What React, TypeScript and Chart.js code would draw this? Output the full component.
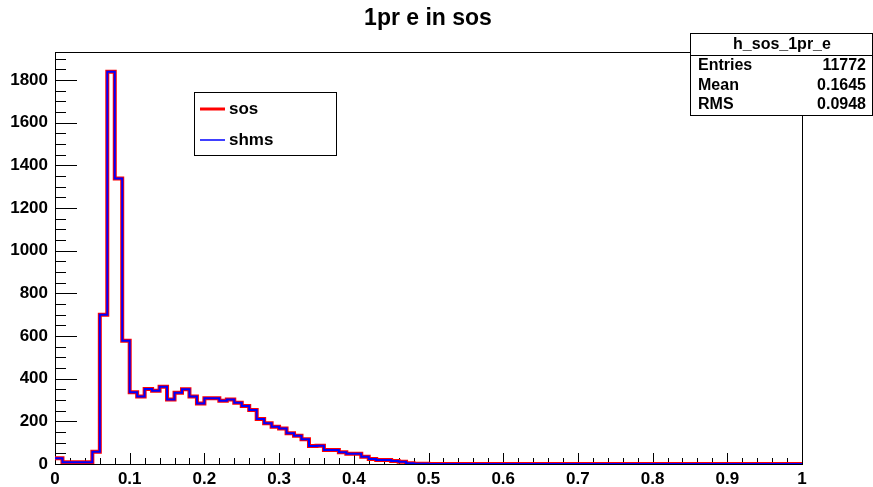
import React, { useEffect, useRef } from "react";
import { Chart, registerables } from "chart.js";

Chart.register(...registerables);

// Histogram h_sos_1pr_e: 100 bins of width 0.01 on [0, 1]
const BIN_WIDTH = 0.01;
const X_MIN = 0;
const X_MAX = 1;
const Y_MAX = 1932;

const sosCounts = [
  27, 8, 8, 8, 8, 58, 700, 1839, 1339, 578,
  336, 316, 352, 344, 362, 303, 334, 350, 316, 284,
  308, 308, 297, 303, 287, 272, 253, 211, 191, 175,
  167, 144, 133, 116, 84, 86, 66, 66, 55, 48,
  48, 34, 23, 19, 19, 14, 11, 3, 1, 1,
  0, 0, 0, 0, 0, 0, 0, 0, 0, 0,
  0, 0, 0, 0, 0, 0, 0, 0, 0, 0,
  0, 0, 0, 0, 0, 0, 0, 0, 0, 0,
  0, 0, 0, 0, 0, 0, 0, 0, 0, 0,
  0, 0, 0, 0, 0, 0, 0, 0, 0, 0,
];

const shmsCounts = [
  27, 8, 8, 8, 8, 58, 700, 1839, 1339, 578,
  336, 316, 352, 344, 362, 303, 334, 350, 316, 284,
  308, 308, 297, 303, 287, 272, 253, 211, 191, 175,
  167, 144, 133, 116, 84, 86, 66, 66, 55, 48,
  48, 34, 23, 19, 19, 14, 11, 3, 1, 1,
  0, 0, 0, 0, 0, 0, 0, 0, 0, 0,
  0, 0, 0, 0, 0, 0, 0, 0, 0, 0,
  0, 0, 0, 0, 0, 0, 0, 0, 0, 0,
  0, 0, 0, 0, 0, 0, 0, 0, 0, 0,
  0, 0, 0, 0, 0, 0, 0, 0, 0, 0,
];

const xTickLabels = ["0", "0.1", "0.2", "0.3", "0.4", "0.5", "0.6", "0.7", "0.8", "0.9", "1"];
const yTickLabels = ["0", "200", "400", "600", "800", "1000", "1200", "1400", "1600", "1800"];

const titleText = "1pr e in sos";
const statsTitle = "h_sos_1pr_e";
const statsLabels = ["Entries", "Mean", "RMS"];
const statsValues = ["11772", "0.1645", "0.0948"];

const FONT = '"Liberation Sans", Arial, Helvetica, sans-serif';

// Step outline: one point per bin low edge, plus the closing upper edge
function toSteps(counts: number[]) {
  const pts = counts.map((c, i) => ({ x: X_MIN + i * BIN_WIDTH, y: c }));
  pts.push({ x: X_MAX, y: counts[counts.length - 1] });
  return pts;
}

const px = (v: number) => Math.round(v) + 0.5;

const framePlugin = {
  id: "rootFrame",
  beforeDatasetsDraw(chart: any) {
    const { ctx, chartArea } = chart;
    const xs = chart.scales.x;
    const ys = chart.scales.y;
    ctx.save();
    ctx.strokeStyle = "#000";
    ctx.lineWidth = 1;
    // frame
    ctx.strokeRect(px(chartArea.left), px(chartArea.top),
      Math.round(chartArea.right) - Math.round(chartArea.left),
      Math.round(chartArea.bottom) - Math.round(chartArea.top));
    // y ticks (inside, major every 200, minor every 50)
    ctx.beginPath();
    for (let v = 0; v <= Y_MAX; v += 50) {
      const y = px(ys.getPixelForValue(v));
      const len = v % 200 === 0 ? 22 : 11;
      ctx.moveTo(chartArea.left, y);
      ctx.lineTo(chartArea.left + len, y);
    }
    // x ticks (inside, major every 0.1, minor every 0.02)
    for (let i = 0; i <= 50; i++) {
      const x = px(xs.getPixelForValue(i * 0.02));
      const len = i % 5 === 0 ? 11 : 6;
      ctx.moveTo(x, chartArea.bottom);
      ctx.lineTo(x, chartArea.bottom - len);
    }
    ctx.stroke();
    ctx.restore();
  },
  afterDraw(chart: any) {
    const { ctx } = chart;
    ctx.save();
    // title
    ctx.fillStyle = "#000";
    ctx.font = `bold 23px ${FONT}`;
    ctx.textAlign = "center";
    ctx.textBaseline = "middle";
    ctx.fillText(titleText, 428, 19);

    // legend
    ctx.fillStyle = "#fff";
    ctx.fillRect(194, 92, 142, 63);
    ctx.strokeStyle = "#000";
    ctx.lineWidth = 1;
    ctx.strokeRect(194.5, 92.5, 142, 63);
    const ds = chart.data.datasets;
    ds.forEach((d: any, row: number) => {
      const y = 109 + row * 31;
      ctx.strokeStyle = d.borderColor;
      ctx.lineWidth = d.borderWidth >= 4 ? 3 : 1.5;
      ctx.beginPath();
      ctx.moveTo(200, y);
      ctx.lineTo(225, y);
      ctx.stroke();
      ctx.fillStyle = "#000";
      ctx.font = `bold 17px ${FONT}`;
      ctx.textAlign = "left";
      ctx.textBaseline = "middle";
      ctx.fillText(d.label, 229, y);
    });

    // statistics box
    ctx.fillStyle = "#fff";
    ctx.fillRect(690, 33, 182, 82);
    ctx.strokeStyle = "#000";
    ctx.lineWidth = 1;
    ctx.strokeRect(690.5, 33.5, 182, 82);
    ctx.beginPath();
    ctx.moveTo(690, 55.5);
    ctx.lineTo(872, 55.5);
    ctx.stroke();
    ctx.fillStyle = "#000";
    ctx.font = `bold 16px ${FONT}`;
    ctx.textBaseline = "middle";
    ctx.textAlign = "center";
    ctx.fillText(statsTitle, 782, 45);
    statsLabels.forEach((lab, i) => {
      const y = 66 + i * 19.5;
      ctx.textAlign = "left";
      ctx.fillText(lab, 698, y);
      ctx.textAlign = "right";
      ctx.fillText(statsValues[i], 866, y);
    });
    ctx.restore();
  },
};

export default function App() {
  const canvasRef = useRef<HTMLCanvasElement | null>(null);

  useEffect(() => {
    if (!canvasRef.current) return;
    const chart = new Chart(canvasRef.current, {
      type: "line",
      data: {
        datasets: [
          {
            label: "sos",
            data: toSteps(sosCounts),
            borderColor: "#ff0000",
            borderWidth: 4,
            stepped: true,
            pointRadius: 0,
            fill: false,
            order: 1,
          },
          {
            label: "shms",
            data: toSteps(shmsCounts),
            borderColor: "#0000ff",
            borderWidth: 2,
            stepped: true,
            pointRadius: 0,
            fill: false,
            order: 0,
          },
        ],
      },
      options: {
        animation: false,
        responsive: false,
        devicePixelRatio: 1,
        layout: { padding: { top: 52, right: 71, left: 0, bottom: 0 } },
        plugins: {
          legend: { display: false },
          tooltip: { enabled: false },
          title: { display: false },
        },
        scales: {
          x: {
            type: "linear",
            min: X_MIN,
            max: X_MAX,
            afterFit: (s: any) => {
              s.height = 23;
            },
            grid: { display: false, drawTicks: false },
            border: { display: false },
            ticks: {
              stepSize: 0.1,
              autoSkip: false,
              maxRotation: 0,
              padding: 5,
              color: "#000",
              font: { family: FONT, size: 17, weight: "bold" },
              callback: (v: any) => xTickLabels[Math.round(Number(v) * 10)] ?? "",
            },
          },
          y: {
            type: "linear",
            min: 0,
            max: Y_MAX,
            afterFit: (s: any) => {
              s.width = 55;
            },
            grid: { display: false, drawTicks: false },
            border: { display: false },
            ticks: {
              stepSize: 200,
              includeBounds: false,
              autoSkip: false,
              padding: 7,
              color: "#000",
              font: { family: FONT, size: 17, weight: "bold" },
              callback: (v: any) => {
                const n = Number(v);
                return n % 200 === 0 ? yTickLabels[n / 200] ?? "" : "";
              },
            },
          },
        },
      },
      plugins: [framePlugin],
    });
    return () => chart.destroy();
  }, []);

  return (
    <div style={{ position: "fixed", left: 0, top: 0, width: 873, height: 487, background: "#fff" }}>
      <canvas ref={canvasRef} width={873} height={487} style={{ display: "block" }} />
    </div>
  );
}
